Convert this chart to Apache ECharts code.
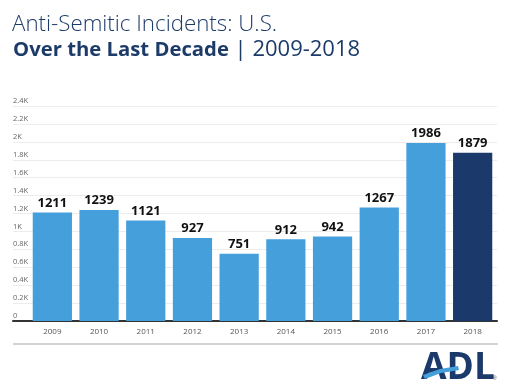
<!DOCTYPE html>
<html><head><meta charset="utf-8">
<script src="https://cdn.jsdelivr.net/npm/echarts@6/dist/echarts.min.js"></script>
<style>html,body{margin:0;padding:0;background:#fff}#c{width:514px;height:391px}</style>
</head><body><div id="c"></div>
<script>
const years = ['2009','2010','2011','2012','2013','2014','2015','2016','2017','2018'];
const incidents = [1211,1239,1121,927,751,912,942,1267,1986,1879];
const barColors = ['#459fdb','#459fdb','#459fdb','#459fdb','#459fdb','#459fdb','#459fdb','#459fdb','#459fdb','#1b3a6b'];
const yMax = 2400, yStep = 200;

const chart = echarts.init(document.getElementById('c'), null, {renderer:'canvas'});
const navy = '#1d3b69';
chart.setOption({
  animation:false,
  backgroundColor:'#fff',
  grid:[
    {left:13, right:17, top:106, bottom:70},
    {left:29, right:18, top:106, bottom:70}
  ],
  xAxis:[
    {gridIndex:0, type:'value', min:0, max:1, show:true, splitLine:{show:false}, axisTick:{show:false}, axisLabel:{show:false},
     axisLine:{show:true, lineStyle:{color:'#333', width:2}}},
    {gridIndex:1, type:'category', data:years, axisLine:{show:false}, axisTick:{show:false},
     axisLabel:{color:'#555', fontSize:8, fontFamily:'Open Sans', margin:7}}
  ],
  yAxis:[
    {gridIndex:0, type:'value', min:0, max:yMax, interval:yStep, axisLine:{show:false}, axisTick:{show:false},
     splitLine:{lineStyle:{color:'#ececec', width:1}},
     axisLabel:{inside:true, align:'left', verticalAlign:'bottom', padding:[0,0,1,0], margin:0, color:'#666', fontSize:7.5, fontFamily:'Open Sans',
       formatter:v=> v===0 ? '0' : (v/1000)+'K'}},
    {gridIndex:1, type:'value', min:0, max:yMax, interval:yStep, show:false}
  ],
  series:[{
    type:'bar', xAxisIndex:1, yAxisIndex:1, barCategoryGap:'16%',
    data: incidents.map((v,i)=>({value:v, itemStyle:{color:barColors[i]}})),
    label:{show:true, position:'top', distance:3, color:'#111', fontWeight:'bold', fontSize:13, fontFamily:'Open Sans'}
  }],
  graphic:[
    {type:'text', left:12, top:14, style:{text:'Anti-Semitic Incidents: U.S.', fill:navy, font:'300 22.3px "Open Sans"'}},
    {type:'text', left:13, top:39, style:{text:'{b|Over the Last Decade} | 2009-2018', fill:navy, font:'22px "Open Sans"',
      rich:{b:{fontWeight:'bold', fontSize:20.3, fontFamily:'Open Sans', fill:navy, padding:[1,0,0,0]}}}},
    {type:'rect', shape:{x:13, y:343, width:485, height:2}, style:{fill:'#d3d3d3'}},
    {type:'text', left:421, top:350, style:{text:'ADL', fill:'#1b3a6b', font:'bold 37px "Open Sans"'}},
    {type:'polygon', shape:{points:[[423,375],[440,369],[458,366],[459,370],[441,373],[425,379]]}, style:{fill:'#459fdb'}},
    {type:'text', left:493, top:376, style:{text:'®', fill:'#555', font:'5px sans-serif'}}
  ]
});
</script></body></html>
